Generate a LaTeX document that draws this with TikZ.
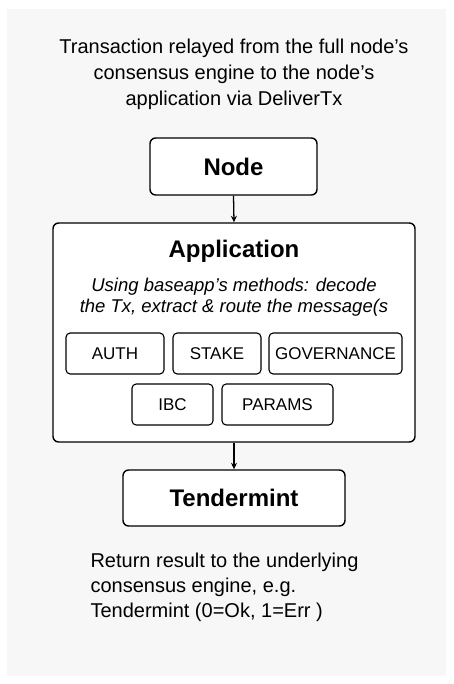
\documentclass[tikz,border=0pt]{standalone}
\usepackage{xcolor}
\usepackage{fontspec}
\setmainfont{Liberation Sans}
\usepackage{tikz}
\usetikzlibrary{shapes,arrows.meta,positioning}

\definecolor{panelgray}{HTML}{F7F7F7}

\begin{document}
\begin{tikzpicture}[
        x=1pt, y=-1pt,
        mainbox/.style={
            draw=black,
            line width=0.5mm,
            rounded corners=0.2cm,
            fill=white,
            inner sep=0pt
        },
        modbox/.style={
            draw=black,
            line width=0.4mm,
            rounded corners=0.15cm,
            fill=white,
            inner sep=0pt,
            minimum height=41pt,
            font=\fontsize{17}{19}\selectfont
        },
        flow/.style={
            -{Stealth[length=6.5pt,width=6pt]},
            line width=0.45mm
        }
    ]

    \useasboundingbox (0,0) rectangle (453,684);
    \fill[panelgray] (7,9) rectangle (446,676);

    % caption above
    \node[align=center, font=\fontsize{20}{26}\selectfont] (caption) at (234,74.5)
        {Transaction relayed from the full node’s\\consensus engine to the node’s\\application via DeliverTx};

    % main boxes
    \node[mainbox, minimum width=167pt, minimum height=57pt,
          font=\fontsize{24}{28}\selectfont\bfseries] (node) at (233.5,166.5) {Node};

    \node[mainbox, minimum width=362pt, minimum height=219pt] (app) at (234,332.5) {};

    \node[font=\fontsize{24}{28}\selectfont\bfseries] (apptitle) at (234,251) {Application};

    \node[align=center, font=\fontsize{18.5}{21}\selectfont\itshape] (appnote) at (234,297.5)
        {Using baseapp’s methods: decode\\the Tx, extract \& route the message(s};

    \node[mainbox, minimum width=222pt, minimum height=56pt,
          font=\fontsize{24}{28}\selectfont\bfseries] (tendermint) at (234,498) {Tendermint};

    % modules
    \node[modbox, minimum width=98pt] (auth) at (115,353.5) {AUTH};
    \node[modbox, minimum width=88pt] (stake) at (217,353.5) {STAKE};
    \node[modbox, minimum width=133pt] (gov) at (335.5,353.5) {GOVERNANCE};
    \node[modbox, minimum width=81pt] (ibc) at (172.5,404.5) {IBC};
    \node[modbox, minimum width=111pt] (params) at (277.5,404.5) {PARAMS};

    % arrows
    \draw[flow] (node.south) -- (app.north);
    \draw[flow] (app.south) -- (tendermint.north);

    % caption below
    \node[align=left, anchor=west, font=\fontsize{20}{25}\selectfont] (result) at (87,587)
        {Return result to the underlying\\consensus engine, e.g.\\Tendermint (0=Ok, 1=Err )};

\end{tikzpicture}
\end{document}
